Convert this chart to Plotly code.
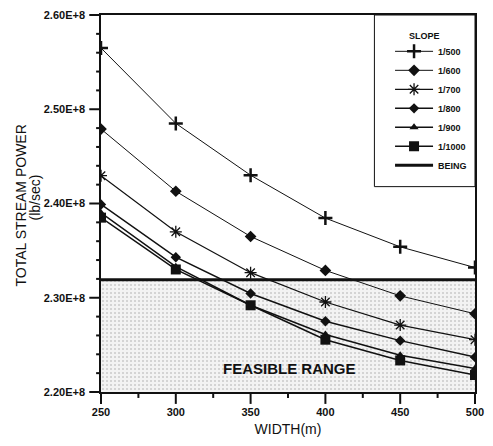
import plotly.graph_objects as go

widths = [250, 300, 350, 400, 450, 500]
slope_names = ["1/500", "1/600", "1/700", "1/800", "1/900", "1/1000"]
s500 = [2.565e8, 2.485e8, 2.430e8, 2.3845e8, 2.354e8, 2.332e8]
s600 = [2.479e8, 2.413e8, 2.365e8, 2.329e8, 2.302e8, 2.283e8]
s700 = [2.4295e8, 2.370e8, 2.3266e8, 2.2955e8, 2.271e8, 2.2555e8]
s800 = [2.399e8, 2.343e8, 2.3045e8, 2.275e8, 2.2545e8, 2.237e8]
s900 = [2.390e8, 2.333e8, 2.292e8, 2.261e8, 2.239e8, 2.225e8]
s1000 = [2.385e8, 2.330e8, 2.292e8, 2.2555e8, 2.2335e8, 2.218e8]
being = 2.319e8

x_range = [250, 500]
y_range = [2.20e8, 2.60e8]
y_tickvals = [2.20e8, 2.30e8, 2.40e8, 2.50e8, 2.60e8]
y_ticktext = ["2.20E+8", "2.30E+8", "2.40E+8", "2.50E+8", "2.60E+8"]
y_minor = [2.22e8, 2.24e8, 2.26e8, 2.28e8, 2.32e8, 2.34e8, 2.36e8, 2.38e8,
           2.42e8, 2.44e8, 2.46e8, 2.48e8, 2.52e8, 2.54e8, 2.56e8, 2.58e8]
x_tickvals = [250, 300, 350, 400, 450, 500]
x_minor = [275, 325, 375, 425, 475]

series = [s500, s600, s700, s800, s900, s1000]
symbols = ["cross-thin", "diamond", "asterisk", "diamond", "triangle-up", "square"]
msizes = [10, 9, 10, 8, 8, 10]
lwidths = [1, 1, 1.2, 1.5, 1.5, 1.5]

FONT = "Liberation Sans, Arial, sans-serif"
INK = "#111111"
PLOT_W, PLOT_H = 383, 380

fig = go.Figure()

# feasible range shading (below BEING level)
fig.add_trace(go.Scatter(
    x=[widths[0], widths[-1]], y=[being, being],
    mode="lines", line=dict(width=0), fill="tozeroy",
    fillpattern=dict(shape=".", fgcolor="#a0a0a0", bgcolor="#f3f3f3", size=4, solidity=0.2),
    showlegend=False, hoverinfo="skip"))

for name, ys, sym, ms, lw in zip(slope_names, series, symbols, msizes, lwidths):
    open_sym = sym in ("cross-thin", "asterisk")
    fig.add_trace(go.Scatter(
        x=widths, y=ys, name=name, mode="lines+markers",
        line=dict(color=INK, width=lw),
        marker=dict(symbol=sym, size=ms, color=INK,
                    line=dict(color=INK, width=2.5 if sym == "cross-thin" else (1.3 if open_sym else 0)))))

fig.add_trace(go.Scatter(
    x=[widths[0], widths[-1]], y=[being, being], name="BEING", mode="lines",
    line=dict(color=INK, width=3)))

fig.add_annotation(x=376, y=2.225e8, text="<b>FEASIBLE RANGE</b>", showarrow=False,
                   font=dict(family=FONT, size=15, color=INK))

# axis tick marks (outside), placed in axis-domain fractions derived from the tick values
for xv, ln in [(v, 12) for v in x_tickvals] + [(v, 6) for v in x_minor]:
    f = (xv - x_range[0]) / (x_range[1] - x_range[0])
    fig.add_shape(type="line", xref="x domain", yref="paper",
                  x0=f, x1=f, y0=0, y1=-ln / PLOT_H, line=dict(color=INK, width=2))
for yv, ln in [(v, 12) for v in y_tickvals] + [(v, 5) for v in y_minor]:
    f = (yv - y_range[0]) / (y_range[1] - y_range[0])
    fig.add_shape(type="line", xref="paper", yref="y domain",
                  y0=f, y1=f, x0=0, x1=-ln / PLOT_W, line=dict(color=INK, width=2))

# y-axis title as two rotated lines
fig.add_annotation(xref="paper", yref="paper", x=0, y=0.5, xshift=-81, yshift=-2,
                   text="TOTAL STREAM POWER", textangle=-90, showarrow=False,
                   xanchor="center", yanchor="middle",
                   font=dict(family=FONT, size=14, color=INK))
fig.add_annotation(xref="paper", yref="paper", x=0, y=0.5, xshift=-67, yshift=6,
                   text="(lb/sec)", textangle=-90, showarrow=False,
                   xanchor="center", yanchor="middle",
                   font=dict(family=FONT, size=14, color=INK))

# legend box and its heading
fig.add_shape(type="rect", xref="paper", yref="paper",
              x0=(381 - 101) / PLOT_W, x1=1, y0=(392 - 185) / PLOT_H, y1=1,
              line=dict(color=INK, width=1), fillcolor="white", layer="below")
fig.add_annotation(xref="paper", yref="paper", x=(432 - 101) / PLOT_W, y=(392 - 33) / PLOT_H,
                   text="<b>SLOPE</b>", showarrow=False, xanchor="center", yanchor="middle",
                   font=dict(family=FONT, size=9, color=INK))

fig.update_layout(
    width=493, height=446,
    margin=dict(l=101, r=9, t=12, b=54),
    paper_bgcolor="white", plot_bgcolor="white",
    font=dict(family=FONT, color=INK),
    legend=dict(x=(397 - 101) / PLOT_W, y=(392 - 34) / PLOT_H, xanchor="left", yanchor="top",
                bgcolor="rgba(0,0,0,0)", borderwidth=0, itemwidth=38,
                font=dict(family=FONT, size=9, color=INK, weight="bold")),
    xaxis=dict(range=x_range, tickvals=x_tickvals, ticks="",
               showgrid=False, zeroline=False,
               showline=True, linecolor=INK, linewidth=1.5, mirror=True,
               ticklabelstandoff=9,
               tickfont=dict(family=FONT, size=11, color=INK, weight="bold"),
               title=dict(text="WIDTH(m)", font=dict(family=FONT, size=14, color=INK), standoff=7)),
    yaxis=dict(range=y_range, tickvals=y_tickvals, ticktext=y_ticktext,
               ticks="", showgrid=False, zeroline=False,
               showline=True, linecolor=INK, linewidth=1.5, mirror=True,
               ticklabelstandoff=12,
               tickfont=dict(family=FONT, size=11, color=INK, weight="bold")),
)

fig.write_html("out.html", config={"displayModeBar": False},
               post_script="document.body.style.margin='0';")
